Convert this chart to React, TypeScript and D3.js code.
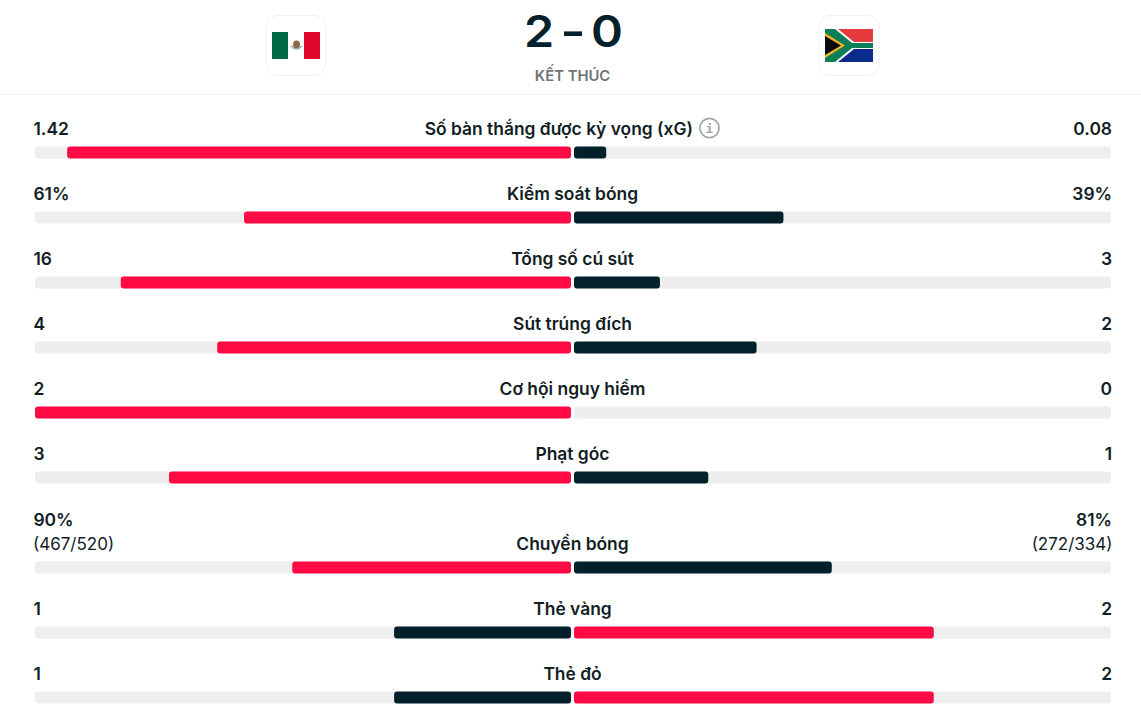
import React from "react";
import * as d3 from "d3";

const W = 1141, H = 716;
const categories = ["Số bàn thắng được kỳ vọng (xG)", "Kiểm soát bóng", "Tổng số cú sút", "Sút trúng đích", "Cơ hội nguy hiểm", "Phạt góc", "Chuyền bóng", "Thẻ vàng", "Thẻ đỏ"];
const homeLabels = ["1.42", "61%", "16", "4", "2", "3", "90%", "1", "1"];
const awayLabels = ["0.08", "39%", "3", "2", "0", "1", "81%", "2", "2"];
const homeSub = ["", "", "", "", "", "", "(467/520)", "", ""];
const awaySub = ["", "", "", "", "", "", "(272/334)", "", ""];
const homeShare = [0.94, 0.61, 0.84, 0.66, 1, 0.75, 0.52, 0.33, 0.33];
const awayShare = [0.06, 0.39, 0.16, 0.34, 0, 0.25, 0.48, 0.67, 0.67];
const barTops = [146.5, 211.5, 276.5, 341.5, 406.5, 471.5, 561.5, 626.5, 691.5];
const scoreParts = ["2", "-", "0"];

const RED = "#ff0a45", DARK = "#02212b", TRACK = "#eeeeee", INK = "#121d24";
const FONT = "Inter, 'Noto Sans', sans-serif";

const leftScale = d3.scaleLinear().domain([0, 1]).range([571, 35]);
const rightScale = d3.scaleLinear().domain([0, 1]).range([574, 1111]);
const scoreX = d3.scalePoint<string>().domain(scoreParts).range([539, 607]);

const rr = (x0: number, x1: number, y: number, h: number, fill: string) => (
  <rect x={x0} y={y} width={Math.max(0, x1 - x0)} height={h} rx={3} fill={fill} />
);

function Tile({ x }: { x: number }) {
  return <rect x={x + 0.5} y={15.5} width={60} height={60} rx={12} fill="#fff" stroke="#f1f1f1" />;
}

function Mexico() {
  return (
    <g>
      <rect x={272} y={32} width={16} height={27} fill="#006847" />
      <rect x={288} y={32} width={16} height={27} fill="#fff" />
      <rect x={304} y={32} width={16} height={27} fill="#e2072c" />
      <ellipse cx={296.5} cy={44.5} rx={3.5} ry={4} fill="#8c6a45" />
      <path d="M291 46 Q296.5 52 302 46" fill="none" stroke="#8fb5a4" strokeWidth={1.5} />
    </g>
  );
}

function SouthAfrica() {
  return (
    <g>
      <rect x={825} y={29} width={48} height={16.5} fill="#e53b3c" />
      <rect x={825} y={45.5} width={48} height={16.5} fill="#0a2a8c" />
      <path d="M825 29 L838 29 L854 42 L873 42 L873 49 L854 49 L838 62 L825 62 Z" fill="#fff" />
      <path d="M825 29 L835 29 L852 43 L873 43 L873 48 L852 48 L835 62 L825 62 Z" fill="#0b7f55" />
      <path d="M825 33 L845 45.5 L825 58 Z" fill="#f5b324" />
      <path d="M825 36 L841 45.5 L825 55 Z" fill="#0b0b0b" />
    </g>
  );
}

export default function App() {
  return (
    <svg width={W} height={H} viewBox={`0 0 ${W} ${H}`} style={{ position: "absolute", left: 0, top: 0, background: "#fff" }} fontFamily={FONT}>
      <Tile x={265.5} />
      <Tile x={818.5} />
      <Mexico />
      <SouthAfrica />
      {scoreParts.map((s) => (
        <text
          key={s}
          transform={`translate(${scoreX(s)},47) scale(${s === "-" ? 1.25 : 1.1},1)`}
          textAnchor="middle"
          fontWeight={600}
          fontSize={44}
          fill={DARK}
        >{s}</text>
      ))}
      <text x={572.5} y={81} textAnchor="middle" fontSize={14.8} fontWeight={600} fill="#6d7275">KẾT THÚC</text>
      <line x1={0} x2={W} y1={94.5} y2={94.5} stroke="#efefef" />
      {categories.map((c, i) => {
        const top = barTops[i];
        const homeLead = i < 7;
        const base = top - 12;
        const hasSub = !!homeSub[i];
        const valueBase = hasSub ? base - 24 : base;
        return (
          <g key={c}>
            <rect x={35} y={top} width={536} height={12} rx={3} fill={TRACK} />
            <rect x={574} y={top} width={537} height={12} rx={3} fill={TRACK} />
            {rr(leftScale(homeShare[i]), 571, top, 12, homeLead ? RED : DARK)}
            {rr(574, rightScale(awayShare[i]), top, 12, homeLead ? DARK : RED)}
            {i === 0 ? (
              <text x={693} y={base} textAnchor="end" fontSize={17.4} fontWeight={600} fill={INK}>{c}</text>
            ) : (
              <text x={572.5} y={base} textAnchor="middle" fontSize={17.4} fontWeight={600} fill={INK}>{c}</text>
            )}
            <text x={33.5} y={valueBase} fontSize={17.4} fontWeight={600} fill={INK}>{homeLabels[i]}</text>
            <text x={1112} y={valueBase} textAnchor="end" fontSize={17.4} fontWeight={600} fill={INK}>{awayLabels[i]}</text>
            {hasSub && <text x={33} y={base} fontSize={17} fill={INK}>{homeSub[i]}</text>}
            {hasSub && <text x={1112.5} y={base} textAnchor="end" fontSize={17} fill={INK}>{awaySub[i]}</text>}
          </g>
        );
      })}
      <g>
        <circle cx={709.5} cy={128} r={9.6} fill="none" stroke="#a3a6a8" strokeWidth={1.7} />
        <text x={709.5} y={133} textAnchor="middle" fontFamily="'DejaVu Sans Mono', monospace" fontSize={13} fontWeight={700} fill="#a3a6a8">i</text>
      </g>
    </svg>
  );
}
